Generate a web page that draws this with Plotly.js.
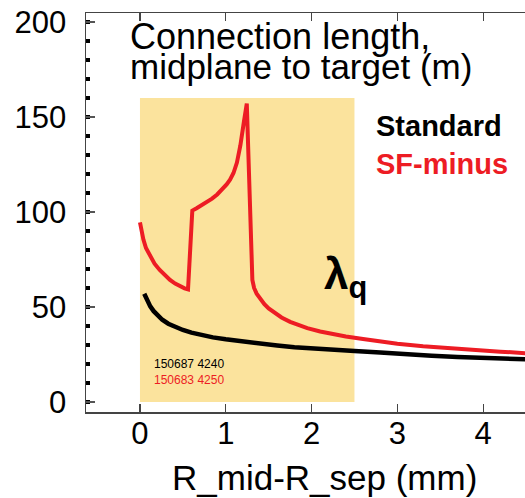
<!DOCTYPE html>
<html>
<head>
<meta charset="utf-8">
<script src="https://cdn.plot.ly/plotly-3.0.1.min.js"></script>
<style>
html,body{margin:0;padding:0;overflow:hidden;background:#fff;width:525px;height:498px;}
#chart{width:535px;height:498px;}
</style>
</head>
<body>
<div id="chart"></div>
<script>
// Standard (black) curve
const stdX = [0.05, 0.08, 0.12, 0.16, 0.2, 0.26, 0.33, 0.4, 0.5, 0.6, 0.7, 0.85, 1.0, 1.2, 1.4, 1.6, 1.8, 2.0, 2.25, 2.5, 2.8, 3.1, 3.4, 3.7, 4.0, 4.3, 4.6];
const stdY = [57, 53.5, 50.3, 47.8, 45.8, 43.3, 41.2, 39.6, 37.9, 36.5, 35.3, 34, 33, 31.8, 30.7, 29.7, 28.8, 28.1, 27.4, 26.8, 26, 25, 24.3, 23.7, 23.2, 22.8, 22.3];
// SF-minus (red) curve
const sfX = [0, 0.02, 0.04, 0.07, 0.12, 0.17, 0.23, 0.29, 0.35, 0.41, 0.47, 0.52, 0.56,
             0.61, 0.66, 0.72, 0.78, 0.84, 0.9, 0.96, 1.01, 1.05, 1.09, 1.13, 1.17, 1.21, 1.245,
             1.31, 1.33, 1.36, 1.4, 1.45, 1.5, 1.57, 1.65, 1.75, 1.85, 1.95, 2.1, 2.25, 2.4, 2.6, 2.8, 3.0, 3.3, 3.6, 3.9, 4.2, 4.6];
const sfY = [94.5, 89.5, 85.5, 81, 76.5, 72.8, 69.5, 66.6, 64.2, 62.3, 60.7, 59.8, 59.3,
             100.7, 102, 103.6, 105.2, 107, 109.2, 111.8, 114.5, 117, 120.5, 126, 135, 147, 157,
             64.2, 60, 57, 54.5, 51.5, 49.2, 46.7, 44.5, 42.2, 40.4, 38.9, 37.1, 35.7, 34.5, 33.1, 31.8, 30.7, 29.3, 28.2, 27.3, 26.5, 25.4];
// Shaded band (lambda_q region)
const bandX = [0, 2.5];
const bandY = [0, 160];
// Tick values
const xTicks = [0, 1, 2, 3, 4];
const yTicks = [0, 50, 100, 150, 200];

const RED = '#ed1c24';
const FONT = 'Liberation Sans, Arial, Helvetica, sans-serif';

const traces = [
  {x: sfX, y: sfY, mode: 'lines', line: {color: RED, width: 4}, hoverinfo: 'skip'},
  {x: stdX, y: stdY, mode: 'lines', line: {color: '#000', width: 4.5}, hoverinfo: 'skip'}
];

const layout = {
  width: 535, height: 498,
  margin: {l: 86, r: 0, t: 13, b: 86},
  paper_bgcolor: '#fff', plot_bgcolor: 'rgba(0,0,0,0)',
  showlegend: false,
  font: {family: FONT, color: '#000'},
  xaxis: {
    range: [-0.629, 4.604], tickvals: xTicks, ticktext: xTicks.map(String),
    showgrid: false, zeroline: false,
    showline: true, linecolor: '#444', linewidth: 1.5, mirror: 'ticks',
    ticks: 'inside', ticklen: 8, tickwidth: 1.2, tickcolor: '#444',
    tickfont: {size: 31, family: FONT, color: '#000'},
    ticklabelstandoff: -7
  },
  yaxis: {
    range: [-5.26, 204.7], tickvals: yTicks, ticktext: yTicks.map(String),
    showgrid: false, zeroline: false,
    showline: true, linecolor: '#444', linewidth: 1.5, mirror: 'ticks',
    ticks: 'inside', ticklen: 9, tickwidth: 1.2, tickcolor: '#555',
    minor: {dtick: 10, ticks: 'inside', ticklen: 4, tickwidth: 4, tickcolor: '#000', showgrid: false},
    tickfont: {size: 31, family: FONT, color: '#000'},
    ticklabelstandoff: 12
  },
  shapes: [{
    type: 'rect', xref: 'x', yref: 'y', layer: 'below',
    x0: bandX[0], x1: bandX[1], y0: bandY[0], y1: bandY[1],
    fillcolor: '#fbe39d', line: {width: 0}
  }],
  annotations: [
    {text: 'Connection length,', x: -0.14, y: 192.3, xref: 'x', yref: 'y', xanchor: 'left', yanchor: 'middle', showarrow: false, font: {size: 36, family: FONT, color: '#000'}},
    {text: 'midplane to target (m)', x: -0.14, y: 176.8, xref: 'x', yref: 'y', xanchor: 'left', yanchor: 'middle', showarrow: false, font: {size: 35, family: FONT, color: '#000'}},
    {text: '<b>Standard</b>', x: 2.73, y: 145.5, xref: 'x', yref: 'y', xanchor: 'left', yanchor: 'middle', showarrow: false, font: {size: 29, family: FONT, color: '#000'}},
    {text: '<b>SF-minus</b>', x: 2.73, y: 125.4, xref: 'x', yref: 'y', xanchor: 'left', yanchor: 'middle', showarrow: false, font: {size: 29, family: FONT, color: RED}},
    {text: '<b>λ<sub>q</sub></b>', x: 2.118, y: 66, xref: 'x', yref: 'y', xanchor: 'left', yanchor: 'middle', showarrow: false, font: {size: 44, family: FONT, color: '#000'}},
    {text: '150687 4240', x: 0.135, y: 20.2, xref: 'x', yref: 'y', xanchor: 'left', yanchor: 'middle', showarrow: false, font: {size: 12, family: FONT, color: '#000'}},
    {text: '150683 4250', x: 0.135, y: 11.6, xref: 'x', yref: 'y', xanchor: 'left', yanchor: 'middle', showarrow: false, font: {size: 12, family: FONT, color: RED}},
    {text: 'R_mid-R_sep (mm)', x: 0.532, y: -0.163, xref: 'paper', yref: 'paper', xanchor: 'center', yanchor: 'middle', showarrow: false, font: {size: 35, family: FONT, color: '#000'}}
  ]
};

Plotly.newPlot('chart', traces, layout, {staticPlot: true, displayModeBar: false});
</script>
</body>
</html>
